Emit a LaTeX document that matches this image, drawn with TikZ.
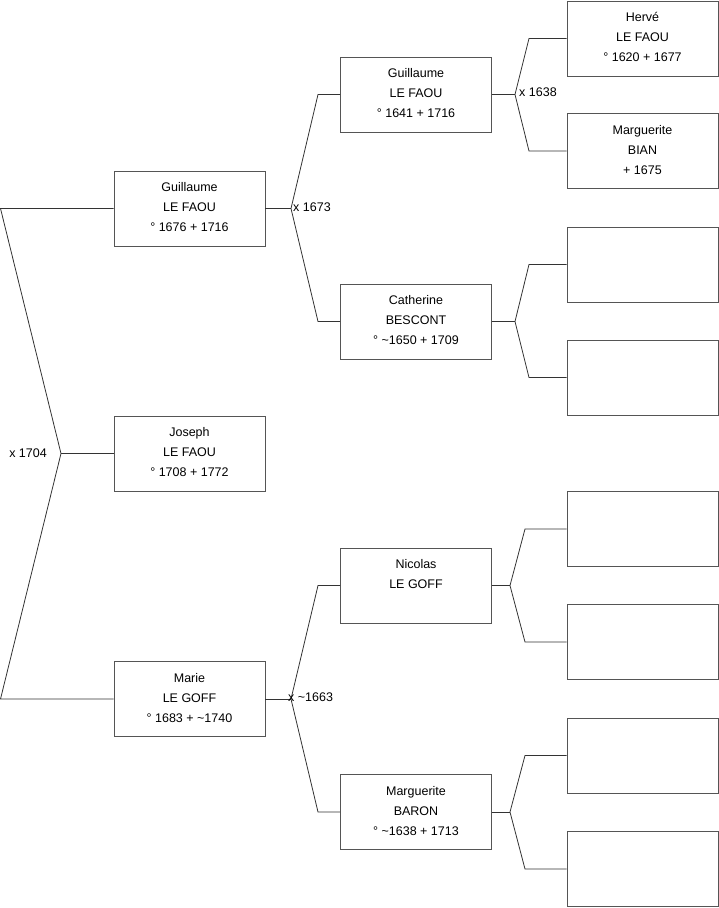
\documentclass[tikz,border=0pt]{standalone}
\usepackage{fontspec}
\setmainfont{Liberation Sans}
\usetikzlibrary{positioning,calc}
\definecolor{edge}{HTML}{333333}
\definecolor{frame}{HTML}{555555}

\tikzset{
  person/.style={draw=frame, line width=0.9pt, minimum width=151pt, minimum height=75pt, inner sep=0pt},
  names/.style={anchor=north, inner sep=0pt, align=center, font=\fontsize{12.5}{20}\selectfont},
  wedding/.style={inner sep=0pt, font=\fontsize{12.5}{14}\selectfont},
  link/.style={draw=edge, line width=0.8pt}
}

\begin{document}
\begin{tikzpicture}[x=1pt,y=-1pt]
\useasboundingbox (0,0) rectangle (719,908);

% generation 1 and 2
\node[person] (guil1) at (189.5,208.5) {};
\node[person] (joseph) at (189.5,453.5) {};
\node[person] (marie) at (189.5,699) {};
% generation 3
\node[person] (guil2) at (416,94.5) {};
\node[person] (cath) at (416,321.5) {};
\node[person] (nico) at (416,585.5) {};
\node[person] (marg) at (416,812) {};
% generation 4
\node[person] (herve) at (642.5,38.5) {};
\node[person] (bian) at (642.5,151) {};
\node[person] (emptyA) at (642.5,264.5) {};
\node[person] (emptyB) at (642.5,377.5) {};
\node[person] (emptyC) at (642.5,529) {};
\node[person] (emptyD) at (642.5,642) {};
\node[person] (emptyE) at (642.5,755.5) {};
\node[person] (emptyF) at (642.5,869) {};

% names
\node[names] (guil1txt) at ([yshift=-12pt]guil1.north) {Guillaume\\LE FAOU\\° 1676 + 1716};
\node[names] (josephtxt) at ([yshift=-12pt]joseph.north) {Joseph\\LE FAOU\\° 1708 + 1772};
\node[names] (marietxt) at ([yshift=-12pt]marie.north) {Marie\\LE GOFF\\° 1683 + \textasciitilde1740};
\node[names] (guil2txt) at ([yshift=-12pt]guil2.north) {Guillaume\\LE FAOU\\° 1641 + 1716};
\node[names] (cathtxt) at ([yshift=-12pt]cath.north) {Catherine\\BESCONT\\° \textasciitilde1650 + 1709};
\node[names] (nicotxt) at ([yshift=-12pt]nico.north) {Nicolas\\LE GOFF};
\node[names] (margtxt) at ([yshift=-12pt]marg.north) {Marguerite\\BARON\\° \textasciitilde1638 + 1713};
\node[names] (hervetxt) at ([yshift=-12pt]herve.north) {Hervé\\LE FAOU\\° 1620 + 1677};
\node[names] (biantxt) at ([yshift=-12pt]bian.north) {Marguerite\\BIAN\\+ 1675};

% forks
\coordinate (forkJ) at (61,453.5);
\coordinate (upJ) at (0.5,208.5);
\coordinate (downJ) at (0.5,699);
\coordinate (forkG) at (291,208.5);
\coordinate (upG) at (318,94.5);
\coordinate (downG) at (318,321.5);
\coordinate (forkM) at (291,699);
\coordinate (upM) at (318,585.5);
\coordinate (downM) at (318,812);
\coordinate (forkH) at (515,94.5);
\coordinate (upH) at (529,38.5);
\coordinate (downH) at (529,151);
\coordinate (forkC) at (515,321.5);
\coordinate (upC) at (529,264.5);
\coordinate (downC) at (529,377.5);
\coordinate (forkN) at (510,585.5);
\coordinate (upN) at (525,529);
\coordinate (downN) at (525,642);
\coordinate (forkB) at (510,812);
\coordinate (upB) at (525,755.5);
\coordinate (downB) at (525,869);

\draw[link] (joseph.west) -- (forkJ);
\draw[link] (guil1.west) -- (upJ) -- (forkJ) -- (downJ) -- (marie.west);
\draw[link] (guil1.east) -- (forkG);
\draw[link] (guil2.west) -- (upG) -- (forkG) -- (downG) -- (cath.west);
\draw[link] (marie.east) -- (forkM);
\draw[link] (nico.west) -- (upM) -- (forkM) -- (downM) -- (marg.west);
\draw[link] (guil2.east) -- (forkH);
\draw[link] (herve.west) -- (upH) -- (forkH) -- (downH) -- (bian.west);
\draw[link] (cath.east) -- (forkC);
\draw[link] (emptyA.west) -- (upC) -- (forkC) -- (downC) -- (emptyB.west);
\draw[link] (nico.east) -- (forkN);
\draw[link] (emptyC.west) -- (upN) -- (forkN) -- (downN) -- (emptyD.west);
\draw[link] (marg.east) -- (forkB);
\draw[link] (emptyE.west) -- (upB) -- (forkB) -- (downB) -- (emptyF.west);

% marriages
\node[wedding, anchor=east] (weddingJ) at ([xshift=-14pt]forkJ) {x 1704};
\node[wedding, anchor=west] (weddingG) at ([xshift=2pt,yshift=1pt]forkG) {x 1673};
\node[wedding, anchor=west] (weddingM) at ([xshift=-3pt,yshift=2pt]forkM) {x \textasciitilde1663};
\node[wedding, anchor=west] (weddingH) at ([xshift=4pt,yshift=2pt]forkH) {x 1638};
\end{tikzpicture}
\end{document}
